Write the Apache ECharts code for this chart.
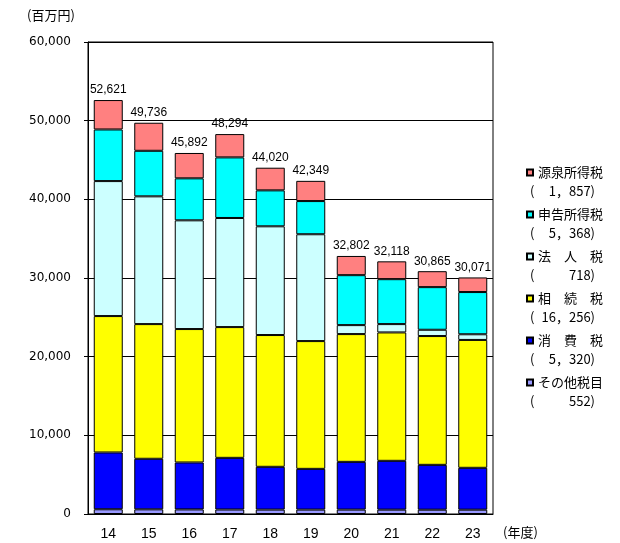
<!DOCTYPE html>
<html><head><meta charset="utf-8">
<script src="https://cdn.jsdelivr.net/npm/echarts@6/dist/echarts.min.js"></script>
<style>html,body{margin:0;padding:0;background:#fff}#c{width:620px;height:543px}</style>
</head><body><div id="c"></div>
<script>
const years = ['14','15','16','17','18','19','20','21','22','23'];
const gensen   = [3741,3566,3222,2964,2880,2569,2442,2268,2025,1857];
const shinkoku = [6560,5790,5340,7700,4570,4220,6350,5710,5420,5368];
const houjin   = [17160,16240,13820,13870,13820,13580,1140,1060,800,718];
const souzoku  = [17340,17120,16960,16620,16750,16240,16240,16320,16370,16256];
const shouhi   = [7220,6430,5970,6570,5440,5180,6070,6205,5700,5320];
const sonota   = [600,590,580,570,560,560,560,555,550,552];
const totals   = [52621,49736,45892,48294,44020,42349,32802,32118,30865,30071];
const yTicks   = [0,10000,20000,30000,40000,50000,60000];
const legendNames  = ['源泉所得税','申告所得税','法人税','相続税','消費税','その他税目'];
const legendLabels = ['源泉所得税','申告所得税','法　人　税','相　続　税','消　費　税','その他税目'];
const legendValues = ['1，857','5，368','718','16，256','5，320','552'];

const chart = echarts.init(document.getElementById('c'), null, {renderer:'canvas'});
const CJK = '"Noto Sans CJK JP", sans-serif';

function mk(name, data, color, extra) {
  return Object.assign({
    name: name, type: 'bar', stack: 'total', data: data, barWidth: 29,
    itemStyle: {color: color, borderColor: '#000', borderWidth: 1},
    emphasis: {disabled: true}, animation: false
  }, extra || {});
}

const series = [
  mk('その他税目', sonota, '#9999FF'),
  mk('消費税', shouhi, '#0000FF'),
  mk('相続税', souzoku, '#FFFF00'),
  mk('法人税', houjin, '#CCFFFF'),
  mk('申告所得税', shinkoku, '#00FFFF'),
  mk('源泉所得税', gensen, '#FF8080', {
    label: {show: true, position: 'top', distance: 4, color: '#000',
      fontFamily: '"Liberation Sans", Arial, sans-serif', fontSize: 12,
      formatter: p => totals[p.dataIndex].toLocaleString('en-US')}
  })
];

const graphics = [
  {type:'text', left: 27, top: 9, style:{text:'(百万円)', font:'13px ' + CJK, fill:'#000'}},
  {type:'text', left: 503, top: 526, style:{text:'(年度)', font:'13px ' + CJK, fill:'#000'}}
];
legendValues.forEach((v, i) => {
  const y = 173 + i * 42 + 18;
  graphics.push({type:'text', x: 530, y: y, style:{text:'(', font:'13px ' + CJK, fill:'#000', verticalAlign:'middle', align:'left'}});
  graphics.push({type:'text', x: 595, y: y, style:{text: v + ')', font:'13px ' + CJK, fill:'#000', verticalAlign:'middle', align:'right'}});
});

chart.setOption({
  animation: false,
  grid: {left: 88, right: 127, top: 42, bottom: 29, show: true, borderColor: '#000', borderWidth: 1, backgroundColor: 'transparent'},
  xAxis: {
    type: 'category', data: years,
    axisLine: {lineStyle: {color: '#000', width: 1}},
    axisTick: {show: false},
    axisLabel: {color: '#000', fontSize: 14, margin: 13, fontFamily: '"Liberation Sans", Arial, sans-serif'}
  },
  yAxis: {
    type: 'value', min: 0, max: 60000, interval: 10000,
    axisLine: {show: true, lineStyle: {color: '#000'}},
    axisTick: {show: true, length: 4, lineStyle: {color: '#000'}},
    splitLine: {show: true, lineStyle: {color: '#000', width: 1}},
    axisLabel: {color: '#000', fontSize: 12, margin: 17, fontFamily: '"DejaVu Sans", sans-serif',
      formatter: v => yTicks.indexOf(v) >= 0 ? v.toLocaleString('en-US') : ''}
  },
  legend: {
    orient: 'vertical', left: 521, top: 161, itemWidth: 6, itemHeight: 6, itemGap: 29,
    icon: 'rect', data: legendNames, selectedMode: false,
    textStyle: {color: '#000', fontSize: 13, fontFamily: CJK},
    formatter: n => legendLabels[legendNames.indexOf(n)]
  },
  graphic: graphics,
  series: series
});
</script></body></html>
